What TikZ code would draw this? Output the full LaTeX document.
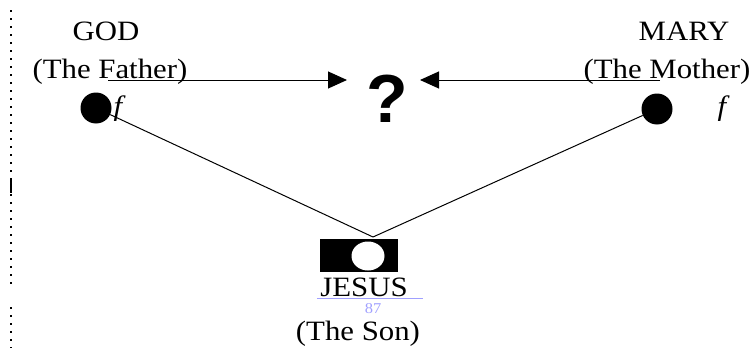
\documentclass[tikz,border=0pt]{standalone}
\usepackage{fontspec}
\setmainfont{Liberation Serif}[FakeStretch=1.1]
\newfontfamily\qfont{Liberation Sans}
\usetikzlibrary{arrows.meta}

\definecolor{pageblue}{RGB}{160,160,255}

\begin{document}
\begin{tikzpicture}[x=1pt,y=-1pt,
	lbl/.style={anchor=base,inner sep=0pt,font=\fontsize{28}{28}\selectfont},
	fsym/.style={anchor=base,inner sep=0pt,font=\fontsize{28}{28}\selectfont\itshape},
	blob/.style={circle,fill=black,inner sep=0pt,minimum size=31pt},
	arr/.style={line width=1pt,-{Triangle[length=19pt,width=17pt]}}]
	\useasboundingbox (0,0) rectangle (750,348);
	
	% margin of the page
	\draw[line width=1.5pt,dash pattern=on 2pt off 6pt] (11,10) -- (11,287);
	\draw[line width=1.5pt,dash pattern=on 2pt off 6pt] (11,307) -- (11,348);
	\draw[line width=1.5pt] (11,180) -- (11,193);
	
	\node[lbl] (god) at (106,40) {GOD};
	\node[lbl] (father) at (110,78) {(The Father)};
	\node[lbl] (mary) at (684,40) {MARY};
	\node[lbl] (mother) at (667,78) {(The Mother)};
	
	\node[anchor=base,inner sep=0pt,font=\fontsize{68}{68}\qfont\bfseries] (q) at (387,122) {?};
	\coordinate (fl) at (108,80);
	\coordinate (ml) at (660,80);
	\coordinate (qin1) at (347,80);
	\coordinate (qin2) at (420,80);
	\draw[arr] (fl) -- (qin1);
	\draw[arr] (ml) -- (qin2);
	
	% the son
	\node[fill=black,inner sep=0pt,minimum width=78pt,minimum height=33pt] (jbox) at (359,255.5) {};
	\fill[white] (368,256) ellipse [x radius=16.5, y radius=14.5];
	\coordinate (jtop) at (373,237);
	
	\node[blob] (fdot) at (96,108) {};
	\node[blob] (mdot) at (657,109) {};
	\draw[line width=1pt] (fdot) -- (jtop);
	\draw[line width=1pt] (mdot) -- (jtop);
	\node[fsym] (ff) at (118,115) {f};
	\node[fsym] (mf) at (722,115) {f};
	
	\node[lbl] (jesus) at (364,296) {JESUS};
	\draw[pageblue,line width=1.5pt] (317,298.5) -- (423,298.5);
	\node[anchor=base,inner sep=0pt,text=pageblue,font=\fontsize{15}{15}\selectfont] (pg) at (373,313) {87};
	\node[lbl] (son) at (358,340) {(The Son)};
\end{tikzpicture}
\end{document}
